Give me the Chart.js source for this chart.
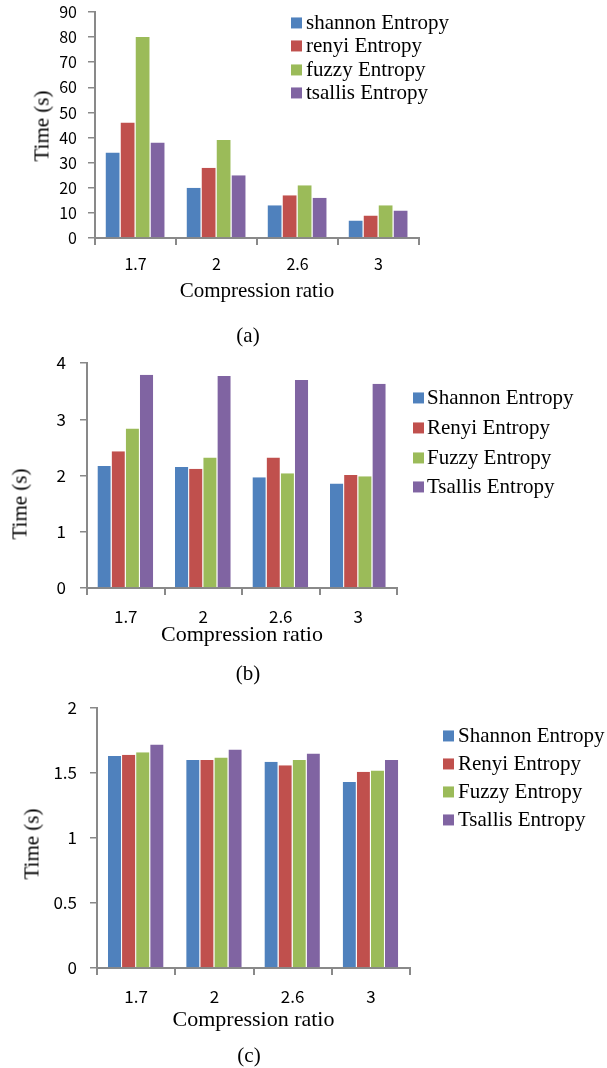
<!DOCTYPE html>
<html>
<head>
<meta charset="utf-8">
<script src="https://cdn.jsdelivr.net/npm/chart.js@4/dist/chart.umd.min.js"></script>
<style>
  html, body { margin: 0; padding: 0; background: #fff; }
  body { width: 607px; height: 1068px; position: relative; overflow: hidden; }
  canvas { position: absolute; left: 0; }
  .cap { position: absolute; font-family: "Liberation Serif", "Times New Roman", serif; font-size: 21px; color: #000; transform: translate(-50%, -50%); white-space: nowrap; line-height: 1; }
  .ytitle { position: absolute; font-family: "Liberation Serif", "Times New Roman", serif; font-size: 21px; color: #000; white-space: nowrap; line-height: 1; transform: translate(-50%, -50%) rotate(-90deg); }
  .leg { position: absolute; font-family: "Liberation Serif", "Times New Roman", serif; color: #000; white-space: nowrap; }
  .leg .row { position: absolute; left: 0; display: flex; align-items: center; transform: translateY(-50%); line-height: 1.1; }
  .leg .sw { display: inline-block; flex: none; }
</style>
</head>
<body>
<canvas id="ca" width="607" height="320" style="top:0px"></canvas>
<canvas id="cb" width="607" height="320" style="top:340px"></canvas>
<canvas id="cc" width="607" height="345" style="top:690px"></canvas>
<div id="captions"></div>
<div id="la" class="leg"></div>
<div id="lb" class="leg"></div>
<div id="lc" class="leg"></div>
<script>
// ---- data ----
const categories = ['1.7', '2', '2.6', '3'];
const namesA = ['shannon Entropy', 'renyi Entropy', 'fuzzy Entropy', 'tsallis Entropy'];
const namesBC = ['Shannon Entropy', 'Renyi Entropy', 'Fuzzy Entropy', 'Tsallis Entropy'];

// (a)
const shannonA = [34, 20, 13, 7];
const renyiA   = [46, 28, 17, 9];
const fuzzyA   = [80, 39, 21, 13];
const tsallisA = [38, 25, 16, 11];
// (b)
const shannonB = [2.17, 2.15, 1.97, 1.86];
const renyiB   = [2.43, 2.12, 2.32, 2.01];
const fuzzyB   = [2.835, 2.32, 2.04, 1.985];
const tsallisB = [3.79, 3.77, 3.70, 3.63];
// (c)
const shannonC = [1.63, 1.60, 1.587, 1.43];
const renyiC   = [1.64, 1.60, 1.56, 1.51];
const fuzzyC   = [1.66, 1.62, 1.60, 1.52];
const tsallisC = [1.72, 1.68, 1.65, 1.60];

const yMaxA = 90, yStepA = 10;
const yMaxB = 4, yStepB = 1;
const yMaxC = 2, yStepC = 0.5;

const xTitle = 'Compression ratio';
const yTitle = 'Time (s)';
const panelLabels = ['(a)', '(b)', '(c)'];

// ---- style ----
const colors = ['#4F81BD', '#C0504D', '#9BBB59', '#8064A2'];
const axisColor = '#898989';
const tickFont = '"Noto Sans CJK KR", "Noto Sans", sans-serif';
const serif = '"Liberation Serif", "Times New Roman", serif';

function zeroPad(s) {
  s.paddingTop = 0; s.paddingBottom = 0; s.paddingLeft = 0; s.paddingRight = 0;
}

function makeChart(id, names, series, cfg) {
  const ctx = document.getElementById(id);
  return new Chart(ctx, {
    type: 'bar',
    data: {
      labels: categories,
      datasets: series.map((d, i) => ({
        label: names[i],
        data: d,
        backgroundColor: colors[i],
        borderColor: 'rgba(255,255,255,0.3)',
        borderWidth: { top: 0, right: 1, left: 0, bottom: 0 },
        borderSkipped: 'bottom',
        barPercentage: 1.0,
        categoryPercentage: cfg.catPct
      }))
    },
    options: {
      responsive: false,
      animation: false,
      devicePixelRatio: 1,
      layout: { padding: { top: cfg.padTop, right: cfg.padRight, left: 0, bottom: 0 } },
      plugins: { legend: { display: false }, tooltip: { enabled: false } },
      scales: {
        x: {
          grid: { display: true, drawOnChartArea: false, drawTicks: true, tickLength: 7, color: axisColor, lineWidth: 2, offset: true },
          border: { display: true, color: axisColor, width: 2 },
          ticks: { color: '#000', font: { family: tickFont, size: cfg.tickSize }, padding: cfg.xTickPad, maxRotation: 0 },
          title: { display: true, text: xTitle, color: '#000', font: { family: serif, size: cfg.xTitleSize }, padding: { top: 0, bottom: cfg.xTitlePadBottom } },
          afterFit: (s) => { s.height = cfg.xHeight; zeroPad(s); }
        },
        y: {
          min: 0, max: cfg.yMax,
          grid: { display: true, drawOnChartArea: false, drawTicks: true, tickLength: 7, color: axisColor, lineWidth: 1.5 },
          border: { display: true, color: axisColor, width: 2 },
          ticks: { stepSize: cfg.yStep, color: '#000', font: { family: tickFont, size: cfg.tickSize }, padding: cfg.yTickPad, callback: (v) => String(v) },
          title: { display: false },
          afterFit: (s) => { s.width = cfg.yWidth; zeroPad(s); }
        }
      }
    }
  });
}

makeChart('ca', namesA, [shannonA, renyiA, fuzzyA, tsallisA], {
  catPct: 0.74, padTop: 12, padRight: 188, tickSize: 16, xTickPad: 9, xTitleSize: 21, xTitlePadBottom: 16,
  xHeight: 82, yMax: yMaxA, yStep: yStepA, yTickPad: 11, yWidth: 95
});
makeChart('cb', namesBC, [shannonB, renyiB, fuzzyB, tsallisB], {
  catPct: 0.73, padTop: 23, padRight: 210, tickSize: 17, xTickPad: 11, xTitleSize: 22, xTitlePadBottom: 12,
  xHeight: 72, yMax: yMaxB, yStep: yStepB, yTickPad: 14, yWidth: 87
});
makeChart('cc', namesBC, [shannonC, renyiC, fuzzyC, tsallisC], {
  catPct: 0.72, padTop: 18, padRight: 197, tickSize: 17, xTickPad: 11, xTitleSize: 22, xTitlePadBottom: 2,
  xHeight: 67, yMax: yMaxC, yStep: yStepC, yTickPad: 13, yWidth: 97
});

// captions and y-axis titles
const capBox = document.getElementById('captions');
const capPos = [[248, 335], [248, 673], [249, 1055]];
panelLabels.forEach((t, i) => {
  const d = document.createElement('div');
  d.className = 'cap';
  d.style.left = capPos[i][0] + 'px';
  d.style.top = capPos[i][1] + 'px';
  d.textContent = t;
  capBox.appendChild(d);
});
const yTitlePos = [[42, 126], [20, 504], [32, 844]];
yTitlePos.forEach((p) => {
  const d = document.createElement('div');
  d.className = 'ytitle';
  d.style.left = p[0] + 'px';
  d.style.top = p[1] + 'px';
  d.textContent = yTitle;
  capBox.appendChild(d);
});

function makeLegend(id, names, left, rowsY, sw, gap, fontSize) {
  const el = document.getElementById(id);
  el.style.left = left + 'px';
  el.style.top = '0px';
  el.style.fontSize = fontSize + 'px';
  names.forEach((n, i) => {
    const row = document.createElement('div');
    row.className = 'row';
    row.style.top = rowsY[i] + 'px';
    const s = document.createElement('span');
    s.className = 'sw';
    s.style.width = sw + 'px';
    s.style.height = sw + 'px';
    s.style.background = colors[i];
    s.style.marginRight = gap + 'px';
    const t = document.createElement('span');
    t.textContent = n;
    row.appendChild(s);
    row.appendChild(t);
    el.appendChild(row);
  });
}
makeLegend('la', namesA, 291, [23, 46, 70, 93], 11, 4, 21);
makeLegend('lb', namesBC, 413, [398, 428, 458, 487], 11, 3, 21);
makeLegend('lc', namesBC, 443, [736, 764, 792, 820], 11, 4, 21);
</script>
</body>
</html>
